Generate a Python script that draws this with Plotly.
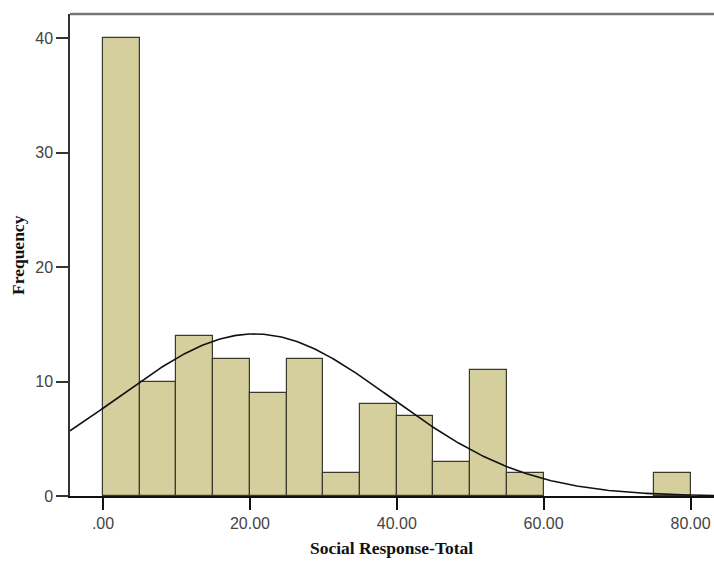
import numpy as np
import plotly.graph_objects as go

# Histogram data (bin start, width 5)
bin_starts = [0, 5, 10, 15, 20, 25, 30, 35, 40, 45, 50, 55, 60, 65, 70, 75]
counts = [40, 10, 14, 12, 9, 12, 2, 8, 7, 3, 11, 2, 0, 0, 0, 2]
bin_width = 5

# Fitted normal curve parameters
curve_mean = 20.6
curve_sd = 18.6
n_total = sum(counts)

x_ticks = [0, 20, 40, 60, 80]
x_tick_labels = [".00", "20.00", "40.00", "60.00", "80.00"]
y_ticks = [0, 10, 20, 30, 40]

xr = [-4.5, 83.2]
yr = [0, 42.1]

bx = [s + bin_width / 2 for s, c in zip(bin_starts, counts) if c > 0]
by = [c for c in counts if c > 0]

fig = go.Figure()
fig.add_trace(go.Bar(
    x=bx, y=by, width=bin_width,
    marker=dict(color="#D4CF9C", line=dict(color="#3a3a2c", width=1.2)),
    showlegend=False, hoverinfo="x+y",
))

cx = np.linspace(xr[0], xr[1], 400)
cy = n_total * bin_width / (curve_sd * np.sqrt(2 * np.pi)) * np.exp(-0.5 * ((cx - curve_mean) / curve_sd) ** 2)
fig.add_trace(go.Scatter(x=cx, y=cy, mode="lines", line=dict(color="#111111", width=1.6),
                         showlegend=False, hoverinfo="skip"))

fig.update_layout(
    width=714, height=561,
    margin=dict(l=70, r=0, t=14, b=65),
    paper_bgcolor="white", plot_bgcolor="white",
    bargap=0,
    xaxis=dict(range=xr, tickvals=x_ticks, ticktext=x_tick_labels,
               showgrid=False, zeroline=False, showline=True, linecolor="#111", linewidth=1.5,
               ticks="outside", ticklen=12, tickwidth=1.5, tickcolor="#111",
               tickfont=dict(family="Liberation Sans", size=16, color="#444")),
    yaxis=dict(range=yr, tickvals=y_ticks,
               showgrid=False, zeroline=False, showline=True, linecolor="#333", linewidth=1.5,
               ticks="outside", ticklen=12, tickwidth=1.5, tickcolor="#333",
               tickfont=dict(family="Liberation Sans", size=16, color="#444")),
    shapes=[dict(type="line", xref="paper", yref="paper", x0=0, x1=1, y0=1, y1=1,
                 line=dict(color="#777", width=2.5))],
    annotations=[
        dict(text="<b>Social Response-Total</b>", xref="paper", yref="paper",
             x=(391 - 70) / 644, y=-(548 - 496) / 482, showarrow=False,
             xanchor="center", yanchor="middle",
             font=dict(family="Liberation Serif", size=17.5, color="#111")),
        dict(text="<b>Frequency</b>", xref="paper", yref="paper",
             x=-(70 - 18) / 644, y=(496 - 255) / 482, showarrow=False, textangle=-90,
             xanchor="center", yanchor="middle",
             font=dict(family="Liberation Serif", size=17.5, color="#111")),
    ],
)

fig.write_html("out.html")
